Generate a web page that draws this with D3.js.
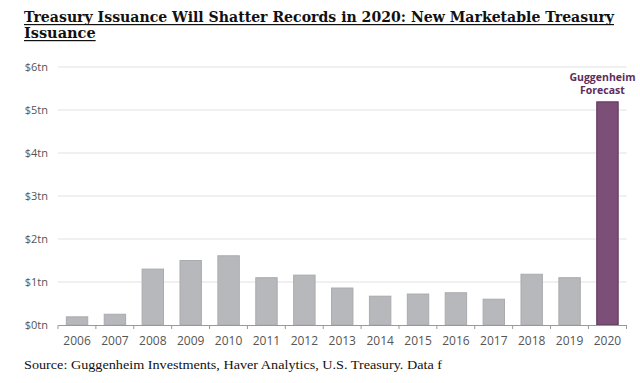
<!DOCTYPE html>
<html><head><meta charset="utf-8">
<script src="https://cdn.jsdelivr.net/npm/d3@7"></script>
<style>body{margin:0;background:#fff}svg{display:block}</style>
</head><body>
<svg id="c" width="640" height="383"></svg>
<script>
const years = ["2006","2007","2008","2009","2010","2011","2012","2013","2014","2015","2016","2017","2018","2019","2020"];
const issuance = [0.19,0.25,1.30,1.50,1.61,1.10,1.16,0.86,0.67,0.72,0.75,0.60,1.18,1.10,5.19];
const yTicks = [0,1,2,3,4,5,6];
const yTickLabels = ["$0tn","$1tn","$2tn","$3tn","$4tn","$5tn","$6tn"];
const titleLines = ["Treasury Issuance Will Shatter Records in 2020: New Marketable Treasury","Issuance"];
const sourceText = "Source: Guggenheim Investments, Haver Analytics, U.S. Treasury. Data f";
const forecastLabel = ["Guggenheim","Forecast"];

const svg = d3.select("#c");
const x = d3.scaleBand().domain(years).range([58, 626.5]).paddingInner(0.435).paddingOuter(0.22);
const y = d3.scaleLinear().domain([0,6]).range([325, 67]);

// title
const t = svg.append("g").attr("font-family","'DejaVu Serif', serif").attr("font-weight","bold").attr("fill","#111");
const t1 = t.append("text").attr("x",24).attr("y",22).attr("font-size",14.5).text(titleLines[0]);
const t2 = t.append("text").attr("x",24).attr("y",38).attr("font-size",14.5).text(titleLines[1]);
const w1 = Math.min(t1.node().getComputedTextLength(), 590);
t1.attr("textLength",w1).attr("lengthAdjust","spacingAndGlyphs");
const w2 = t2.node().getComputedTextLength();
t.append("rect").attr("x",24).attr("y",24).attr("width",w1).attr("height",1.2).attr("fill","#111");
t.append("rect").attr("x",24).attr("y",40).attr("width",w2).attr("height",1.2).attr("fill","#111");

// grid
svg.append("g").selectAll("line").data(yTicks.filter(d=>d>0)).join("line")
  .attr("x1",58).attr("x2",626.5).attr("y1",d=>y(d)).attr("y2",d=>y(d))
  .attr("stroke","#e2e2e2").attr("stroke-width",1.2);

// y labels
svg.append("g").selectAll("text").data(yTicks).join("text")
  .attr("x",48).attr("y",d=>y(d)).attr("dy","0.35em").attr("text-anchor","end")
  .attr("font-family","'Open Sans', sans-serif").attr("font-size",11).attr("fill","#555")
  .text((d,i)=>yTickLabels[i]);

// bars
svg.append("g").selectAll("rect").data(years).join("rect")
  .attr("x",d=>x(d)).attr("width",x.bandwidth())
  .attr("y",(d,i)=>y(issuance[i])).attr("height",(d,i)=>y(0)-y(issuance[i]))
  .attr("fill",(d,i)=>i===years.length-1?"#7b4f77":"#b6b8bb")
  .attr("stroke",(d,i)=>i===years.length-1?"#5e3059":"#a9abae").attr("stroke-width",1);

// x axis
const xAxis = d3.axisBottom(x).tickSize(4).tickSizeOuter(0).tickPadding(7);
const ax = svg.append("g").attr("transform","translate(0,325)").call(xAxis);
ax.select(".domain").attr("stroke","#999");
ax.selectAll(".tick line").remove();
const bounds = years.map((d,i)=>58 + i*x.step()).concat([626.5]);
ax.append("g").selectAll("line").data(bounds).join("line")
  .attr("x1",d=>d).attr("x2",d=>d).attr("y1",0).attr("y2",4).attr("stroke","#999");
ax.selectAll(".tick text").attr("font-family","'Open Sans', sans-serif").attr("font-size",12).attr("fill","#555");

// annotation
const last = years[years.length-1];
const ann = svg.append("g").attr("font-family","'Open Sans', sans-serif").attr("font-weight","bold")
  .attr("font-size",10.5).attr("fill","#5e2d5c").attr("text-anchor","middle");
ann.selectAll("text").data(forecastLabel).join("text")
  .attr("x",x(last)+x.bandwidth()/2-5).attr("y",(d,i)=>81+i*13).text(d=>d);

// source
svg.append("text").attr("x",24).attr("y",369).attr("font-family","'Liberation Serif', serif")
  .attr("font-size",13).attr("fill","#111").attr("textLength",418).attr("lengthAdjust","spacingAndGlyphs").text(sourceText);
</script>
</body></html>
